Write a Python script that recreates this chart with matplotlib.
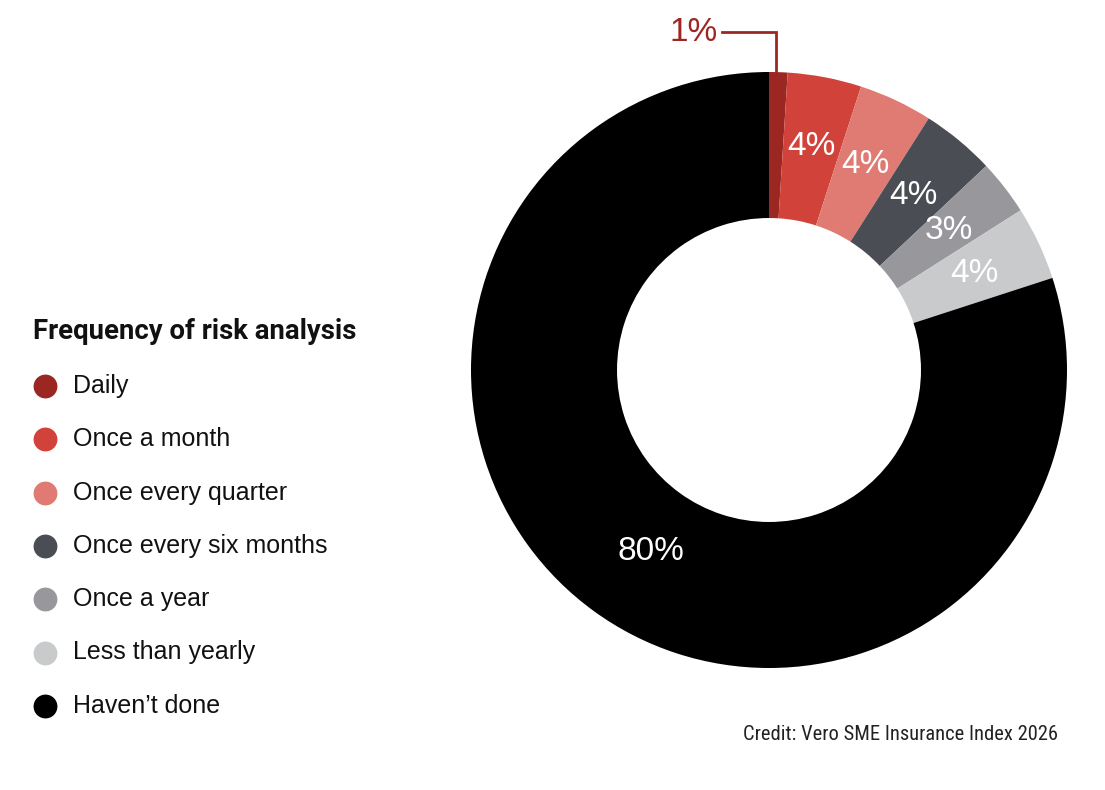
import matplotlib
matplotlib.use("Agg")
import matplotlib.pyplot as plt
import numpy as np
import logging
logging.getLogger("matplotlib.font_manager").setLevel(logging.ERROR)

categories = ["Daily", "Once a month", "Once every quarter", "Once every six months",
              "Once a year", "Less than yearly", "Haven\u2019t done"]
values = [1, 4, 4, 4, 3, 4, 80]
labels = ["1%", "4%", "4%", "4%", "3%", "4%", "80%"]
colors = ["#9C2722", "#D1433A", "#DF7B73", "#4A4D53", "#97979C", "#C9CACC", "#000000"]
title = "Frequency of risk analysis"
credit = "Credit: Vero SME Insurance Index 2026"

W, H = 1105, 790
fig = plt.figure(figsize=(W / 100, H / 100), dpi=100)
fig.patch.set_facecolor("white")

# pie axes
cx, cy, R = 769, 370, 298
ax = fig.add_axes([(cx - R) / W, (H - cy - R) / H, 2 * R / W, 2 * R / H])
wedges, _ = ax.pie(values, colors=colors, startangle=90, counterclock=False,
                   radius=1.0, wedgeprops=dict(width=0.49, linewidth=0))
ax.set_xlim(-1, 1)
ax.set_ylim(-1, 1)
ax.set_aspect("equal")
ax.axis("off")

total = float(sum(values))
cum = np.cumsum([0] + values)
pct_font = ["Liberation Sans", "DejaVu Sans"]
for i, (v, lab) in enumerate(zip(values, labels)):
    mid = 90 - 360 * (cum[i] + v / 2) / total
    th = np.deg2rad(mid)
    if i == 0:
        xm = 0.022
        ytop = 1.134
        ax.plot([xm, xm, -0.158], [1.0, ytop, ytop], color=colors[0], lw=2,
                clip_on=False, solid_joinstyle="miter")
        ax.text(-0.172, ytop, lab, color=colors[0], fontsize=24, ha="right",
                va="center", family=pct_font, clip_on=False)
    else:
        last = i == len(values) - 1
        r = 0.728 if last else 0.762
        if last:
            th = th + np.deg2rad(3)
        ax.text(r * np.cos(th), r * np.sin(th), lab, color="white", fontsize=24,
                ha="center", va="center", family=pct_font)

# legend overlay
lax = fig.add_axes([0, 0, 1, 1])
lax.set_xlim(0, W)
lax.set_ylim(H, 0)
lax.axis("off")
lax.patch.set_alpha(0)

narrow = ["Roboto Condensed", "Liberation Sans Narrow", "DejaVu Sans Condensed", "Roboto"]
lax.text(33, 339, title, fontsize=19.8, fontweight="bold", family=["Roboto", "DejaVu Sans"],
         ha="left", va="baseline", color="#111111")
row_y0, row_dy = 386, 53.3
for i, (cat, col) in enumerate(zip(categories, colors)):
    y = row_y0 + i * row_dy
    lax.scatter([44.5], [y], s=295, color=col, linewidths=0)
    lax.text(73, y, cat, fontsize=18, family=["Liberation Sans", "DejaVu Sans"],
             ha="left", va="center", color="#111111")

lax.text(1058, 735, credit, fontsize=14.8, family=narrow, ha="right",
         va="center", color="#222222")

fig.savefig("out.png", dpi=100, facecolor="white")
